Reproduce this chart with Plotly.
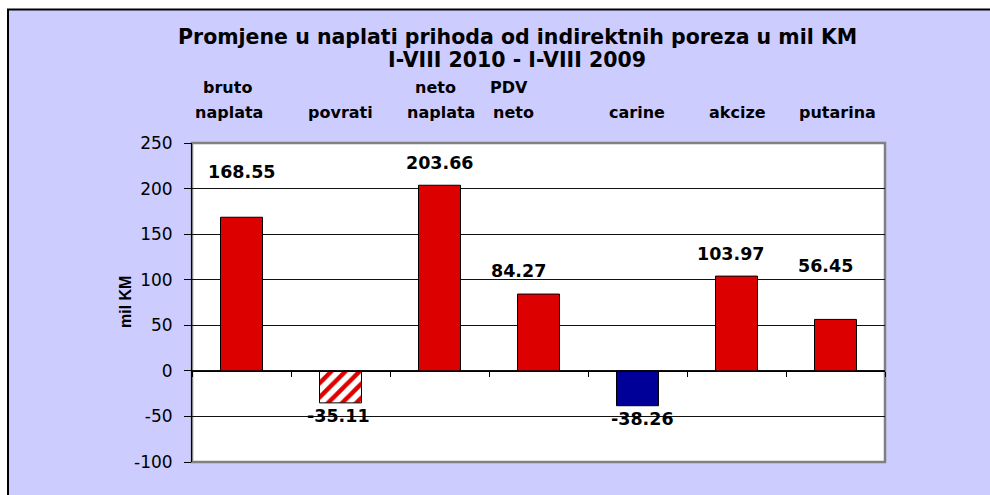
import plotly.graph_objects as go

# ---- data ----
categories = ["bruto naplata", "povrati", "neto naplata", "PDV neto", "carine", "akcize", "putarina"]
label_line1 = ["bruto", "", "neto", "PDV", "", "", ""]
label_line2 = ["naplata", "povrati", "naplata", "neto", "carine", "akcize", "putarina"]
values = [168.55, -35.11, 203.66, 84.27, -38.26, 103.97, 56.45]
value_text = ["168.55", "-35.11", "203.66", "84.27", "-38.26", "103.97", "56.45"]
title_line1 = "Promjene u naplati prihoda od indirektnih poreza u mil KM"
title_line2 = "I-VIII 2010 - I-VIII 2009"
y_title = "mil KM"
y_ticks = [-100, -50, 0, 50, 100, 150, 200, 250]
y_ticktext = ["-100", "-50", "0", "50", "100", "150", "200", "250"]

# ---- styles ----
RED = "#DD0000"
NAVY = "#000099"
LAV = "#CCCCFF"
bar_colors = [RED, "#FFFFFF", RED, RED, NAVY, RED, RED]
hatched = [False, True, False, False, False, False, False]
label_yshift = [45, -13, 22, 23, -13, 22, 53]
label_xshift = [0, -2, 0, -20, 5, -6, -10]
cat_xshift1 = [-14, 0, -4, -30, 0, 0, 0]
cat_xshift2 = [-13, 0, 1, -25, -1, 1, 2]

W, H = 990, 495
L, R, T, B = 192, 105, 143, 33
pw, ph = W - L - R, H - T - B


def px_x(px):
    return (px - L) / pw


def px_y(py):
    return (H - B - py) / ph


FONT = "DejaVu Sans"

solid_x = [c for c, h in zip(categories, hatched) if not h]
solid_y = [v for v, h in zip(values, hatched) if not h]
solid_c = [col for col, h in zip(bar_colors, hatched) if not h]
hatch_x = [c for c, h in zip(categories, hatched) if h]
hatch_y = [v for v, h in zip(values, hatched) if h]

fig = go.Figure()
fig.add_trace(go.Bar(
    x=solid_x, y=solid_y,
    marker=dict(color=solid_c, line=dict(color="black", width=1)),
    hoverinfo="x+y",
))
fig.add_trace(go.Bar(
    x=hatch_x, y=hatch_y,
    marker=dict(
        color="white",
        line=dict(color="black", width=1),
        pattern=dict(shape="/", fgcolor=RED, bgcolor="white", fgopacity=1,
                     size=10, solidity=0.45, fillmode="overlay"),
    ),
    hoverinfo="x+y",
))

annotations = []
# data labels
for c, v, t, ys, xs in zip(categories, values, value_text, label_yshift, label_xshift):
    annotations.append(dict(
        x=c, y=v, xref="x", yref="y", text=t, showarrow=False,
        yshift=ys, xshift=xs, yanchor="middle",
        font=dict(family=FONT, size=17.5, color="black", weight="bold"),
    ))
# category labels (top)
for c, l1, l2, s1, s2 in zip(categories, label_line1, label_line2, cat_xshift1, cat_xshift2):
    if l1:
        annotations.append(dict(
            x=c, y=px_y(87), xref="x", yref="paper", text=l1, showarrow=False,
            xshift=s1, yanchor="middle",
            font=dict(family=FONT, size=16, color="black", weight="bold"),
        ))
    annotations.append(dict(
        x=c, y=px_y(113), xref="x", yref="paper", text=l2, showarrow=False,
        xshift=s2, yanchor="middle",
        font=dict(family=FONT, size=16, color="black", weight="bold"),
    ))
# title
annotations.append(dict(
    x=px_x(517), y=px_y(37), xref="paper", yref="paper", text=title_line1,
    showarrow=False, xanchor="center", yanchor="middle",
    font=dict(family=FONT, size=20.5, color="black", weight="bold"),
))
annotations.append(dict(
    x=px_x(517), y=px_y(60), xref="paper", yref="paper", text=title_line2,
    showarrow=False, xanchor="center", yanchor="middle",
    font=dict(family=FONT, size=20.5, color="black", weight="bold"),
))
# y title
annotations.append(dict(
    x=px_x(125), y=px_y(302), xref="paper", yref="paper", text=y_title,
    showarrow=False, textangle=-90, xanchor="center", yanchor="middle",
    font=dict(family="Liberation Sans", size=16, color="black", weight="bold"),
))

shapes = [
    # outer lavender chart area
    dict(type="rect", xref="paper", yref="paper", layer="below",
         x0=px_x(8), x1=px_x(993), y0=px_y(505), y1=px_y(9.5),
         fillcolor=LAV, line=dict(color="black", width=2)),
    # white plot area with grey border
    dict(type="rect", xref="paper", yref="paper", layer="below",
         x0=0, x1=1, y0=0, y1=1,
         fillcolor="white", line=dict(color="#808080", width=2.5)),
]

fig.update_layout(
    width=W, height=H,
    margin=dict(l=L, r=R, t=T, b=B, pad=0),
    paper_bgcolor="white",
    plot_bgcolor="white",
    showlegend=False,
    barmode="overlay",
    bargap=0.576,
    annotations=annotations,
    shapes=shapes,
    xaxis=dict(
        type="category",
        categoryorder="array", categoryarray=categories,
        anchor="free", position=100 / 350,
        showline=True, linecolor="black", linewidth=1,
        ticks="outside", tickson="boundaries", ticklen=5, tickcolor="black", tickwidth=1,
        showticklabels=False, showgrid=False, zeroline=False,
        range=[-0.5, 6.5],
    ),
    yaxis=dict(
        range=[-100, 250], tickvals=y_ticks, ticktext=y_ticktext,
        showline=True, linecolor="black", linewidth=1,
        ticks="outside", ticklen=7, tickcolor="black",
        ticklabelstandoff=8,
        showgrid=True, gridcolor="#111111", gridwidth=1,
        zeroline=False,
        tickfont=dict(family=FONT, size=17, color="black"),
    ),
    font=dict(family=FONT, color="black"),
)

fig.write_html(
    "out.html",
    config={"displayModeBar": False},
    post_script="document.body.style.margin='0';document.body.style.padding='0';",
)
